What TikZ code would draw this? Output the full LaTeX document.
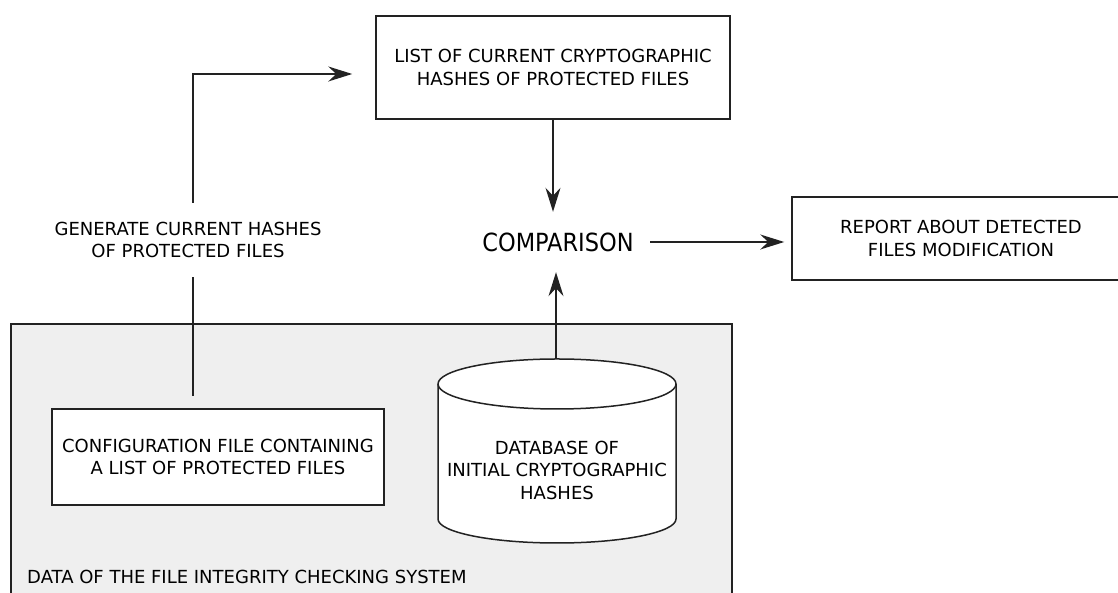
\documentclass[tikz,border=0pt]{standalone}
\usepackage{fontspec}
\setmainfont{DejaVu Sans}
\newfontfamily\condfont{DejaVu Sans Condensed}
\usetikzlibrary{arrows.meta}
\definecolor{ln}{HTML}{222222}
\definecolor{panel}{HTML}{EFEFEF}
\tikzset{
  txt/.style={font=\fontsize{18}{22.5}\selectfont, align=center, text=black, inner sep=0pt},
  boxnode/.style={txt, draw=ln, line width=1.5pt, fill=white},
  conn/.style={draw=ln, line width=1.4pt},
  arr/.style={conn, -{Stealth[length=24pt,width=15pt,inset=8pt]}},
}
\begin{document}
\begin{tikzpicture}[x=1pt,y=1pt]
\useasboundingbox (0,0) rectangle (1118,593);
% panel
\fill[panel] (11,-10) rectangle (732,269);
\draw[ln, line width=1.5pt] (11,-10) -- (11,269) -- (732,269) -- (732,-10);
\node[txt, anchor=west] (lbl) at (27,16) {DATA OF THE FILE INTEGRITY CHECKING SYSTEM};
% top box
\node[boxnode, minimum width=354pt, minimum height=103pt] (top) at (553,525.5)
  {LIST OF CURRENT CRYPTOGRAPHIC\\HASHES OF PROTECTED FILES};
% report box
\node[boxnode, minimum width=338pt, minimum height=83pt] (rep) at (961,354.5)
  {REPORT ABOUT DETECTED\\FILES MODIFICATION};
% comparison
\node[txt, font=\condfont\fontsize{25}{29}\selectfont, minimum width=184pt, minimum height=60pt] (cmp) at (558,351) {COMPARISON};
% generate
\node[txt, minimum width=20pt, minimum height=74pt] (gen) at (188,353)
  {GENERATE CURRENT HASHES\\OF PROTECTED FILES};
% config
\node[boxnode, minimum width=332pt, minimum height=96pt] (cfg) at (218,136)
  {CONFIGURATION FILE CONTAINING\\A LIST OF PROTECTED FILES};
% database cylinder
\filldraw[fill=white, draw=ln, line width=1.5pt]
  (438,209) -- (438,74) arc[start angle=180, end angle=360, x radius=119pt, y radius=24pt]
  -- (676,209) arc[start angle=0, end angle=180, x radius=119pt, y radius=25pt] -- cycle;
\draw[ln, line width=1.5pt] (438,209) arc[start angle=180, end angle=360, x radius=119pt, y radius=25pt];
\node[txt] (db) at (557,123)
  {DATABASE OF\\INITIAL CRYPTOGRAPHIC\\HASHES};
\coordinate (dbtop) at (556,234);
% connectors
\draw[arr, shorten >=23pt] ([xshift=5pt]gen.north) |- ([yshift=-6.5pt]top.west);
\draw[conn, shorten >=12pt] ([xshift=5pt]gen.south) -- ([xshift=5pt]gen.south |- cfg.north);
\draw[arr] (top.south) -- (top.south |- cmp.north);
\draw[arr] (dbtop) -- (dbtop |- cmp.south);
\draw[arr, shorten >=7pt] (cmp.east) -- (cmp.east -| rep.west);
\end{tikzpicture}
\end{document}
